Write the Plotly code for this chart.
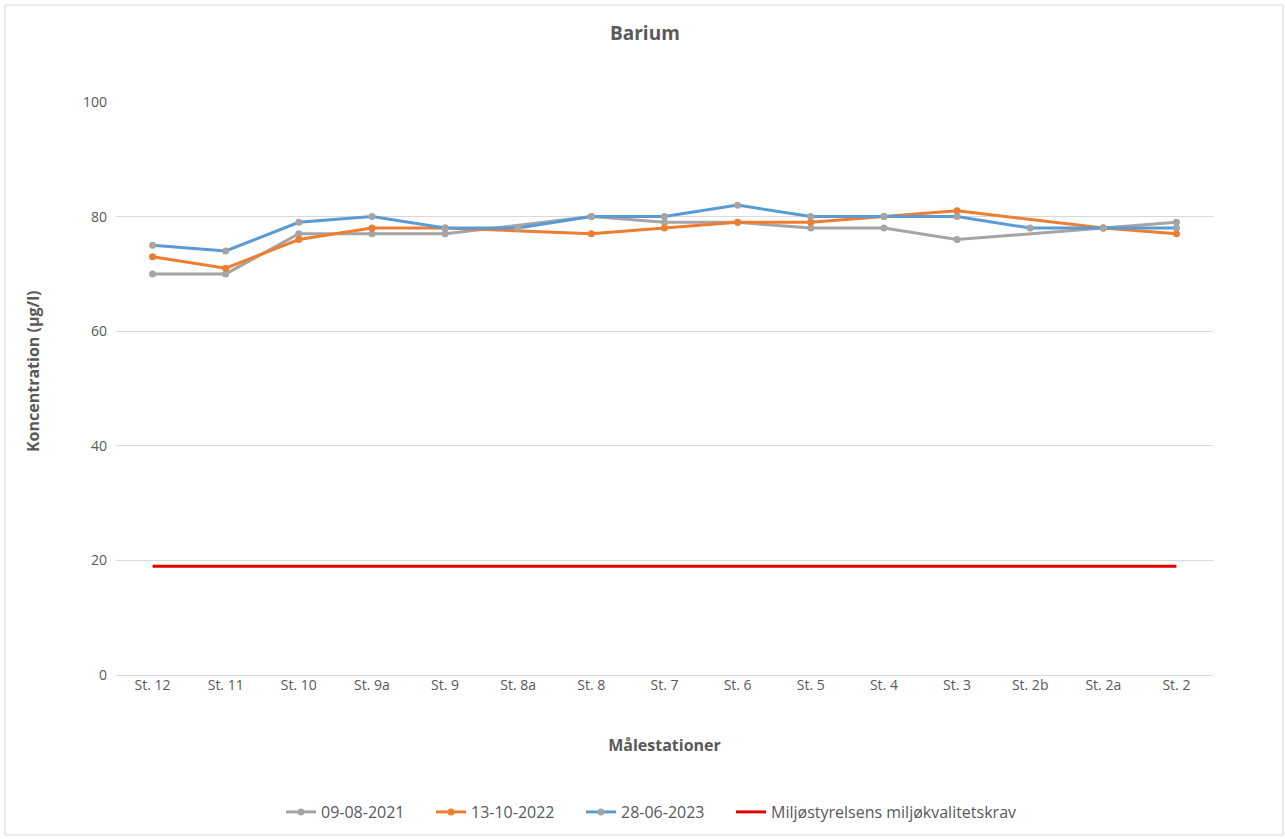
import plotly.graph_objects as go

stations = ["St. 12", "St. 11", "St. 10", "St. 9a", "St. 9", "St. 8a", "St. 8", "St. 7",
            "St. 6", "St. 5", "St. 4", "St. 3", "St. 2b", "St. 2a", "St. 2"]

ba_2021 = [70, 70, 77, 77, 77, None, 80, 79, 79, 78, 78, 76, None, 78, 79]
ba_2022 = [73, 71, 76, 78, 78, None, 77, 78, 79, 79, 80, 81, None, 78, 77]
ba_2023 = [75, 74, 79, 80, 78, 78, 80, 80, 82, 80, 80, 80, 78, 78, 78]
kvalitetskrav = [19] * len(stations)

W, H = 1285, 839
L, R, T, B = 116, 72, 102, 164
pw, ph = W - L - R, H - T - B

FONT = "'Open Sans', Lato, sans-serif"
GREY_TXT = "#595959"

fig = go.Figure()
fig.add_trace(go.Scatter(x=stations, y=ba_2021, name="09-08-2021", mode="lines+markers",
                         connectgaps=True, line=dict(color="#a5a5a5", width=3),
                         marker=dict(color="#a5a5a5", size=7)))
fig.add_trace(go.Scatter(x=stations, y=ba_2022, name="13-10-2022", mode="lines+markers",
                         connectgaps=True, line=dict(color="#ed7d31", width=3),
                         marker=dict(color="#ed7d31", size=7)))
fig.add_trace(go.Scatter(x=stations, y=ba_2023, name="28-06-2023", mode="lines+markers",
                         connectgaps=True, line=dict(color="#5b9bd5", width=3),
                         marker=dict(color="#a5a5a5", size=7)))
fig.add_trace(go.Scatter(x=stations, y=kvalitetskrav, name="Miljøstyrelsens miljøkvalitetskrav",
                         mode="lines", line=dict(color="#e00000", width=3), legend="legend2"))

def px(xp):
    return (xp - L) / pw

def py(yp):
    return (H - B - yp) / ph

legend_common = dict(orientation="h", yanchor="middle", xanchor="left", y=py(812),
                     font=dict(size=16, color=GREY_TXT), itemwidth=30,
                     bgcolor="rgba(0,0,0,0)")

fig.update_layout(
    width=W, height=H,
    margin=dict(l=L, r=R, t=T, b=B, autoexpand=False),
    paper_bgcolor="white", plot_bgcolor="white",
    font=dict(family=FONT, color=GREY_TXT, size=14),
    showlegend=True,
    legend=dict(x=px(281), entrywidth=105, entrywidthmode="pixels", **legend_common),
    legend2=dict(x=px(731), **legend_common),
    xaxis=dict(type="category", showgrid=False, showline=False, ticks="",
               tickfont=dict(size=14, color=GREY_TXT), range=[-0.5, len(stations) - 0.5],
               title=dict(text="<b>Målestationer</b>", font=dict(size=16, color=GREY_TXT),
                          standoff=46)),
    yaxis=dict(range=[0, 100], dtick=20, showgrid=True, gridcolor="#d9d9d9", gridwidth=1,
               zeroline=True, zerolinecolor="#d9d9d9", zerolinewidth=1, showline=False,
               ticks="", tickfont=dict(size=14, color=GREY_TXT), ticklabelstandoff=8),
    annotations=[
        dict(text="<b>Barium</b>", x=px(645), y=py(33), xref="paper", yref="paper",
             showarrow=False, font=dict(size=19, color=GREY_TXT),
             xanchor="center", yanchor="middle"),
        dict(text="<b>Koncentration (µg/l)</b>", x=px(33), y=py(372), xref="paper", yref="paper",
             showarrow=False, textangle=-90, font=dict(size=16, color=GREY_TXT),
             xanchor="center", yanchor="middle"),
    ],
    shapes=[dict(type="rect", xref="paper", yref="paper",
                 x0=px(5), x1=px(1283), y0=py(835), y1=py(5),
                 line=dict(color="#d9d9d9", width=1), layer="below")],
)

fig.write_html("out.html")
